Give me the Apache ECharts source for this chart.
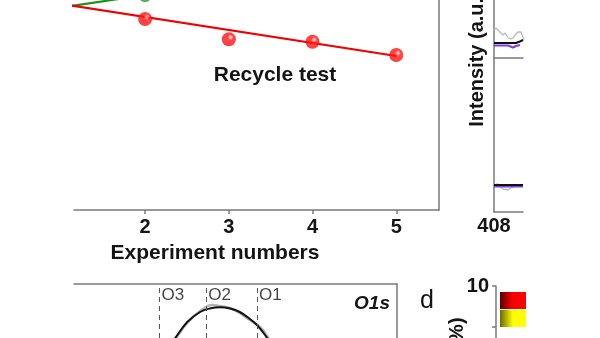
<!DOCTYPE html>
<html>
<head>
<meta charset="utf-8">
<script src="https://cdn.jsdelivr.net/npm/echarts@6/dist/echarts.min.js"></script>
<style>
  html, body { margin: 0; padding: 0; background: #ffffff; }
  #chart { width: 600px; height: 338px; }
</style>
</head>
<body>
<div id="chart"></div>
<script>
// ---- Recycle test (panel with experiment numbers) ----
const experimentNumbers = [2, 3, 4, 5];
const recycleValues = [76.4, 68.3, 67.3, 62.0];
const recycleFitX = [1, 5];
const recycleFitY = [82.4, 61.6];
const referenceX = [1, 2];
const referenceY = [81.0, 86.0];
const experimentTicks = [2, 3, 4, 5];

// ---- N 1s spectra, stacked (upper / lower) ----
const n1sUpperRawE = [408.0, 407.86, 407.59, 407.38, 407.24, 407.03, 406.83, 406.69, 406.48, 406.34, 406.14, 405.93];
const n1sUpperRaw = [28, 30, 26, 23, 25, 20, 19, 20, 24, 26, 26, 18];
const n1sUpperFitE = [408.0, 406.48, 406.21, 406.0];
const n1sUpperFit = [15, 15, 16.5, 18];
const n1sUpperBaseE = [408.0, 407.03, 406.69, 406.48, 406.21];
const n1sUpperBase = [12.5, 12.5, 10.5, 12, 13];
const n1sLowerRawE = [408.0, 407.72, 407.38, 407.03, 406.83, 406.55, 406.21, 406.0];
const n1sLowerRaw = [27, 28, 23, 22, 24, 26, 27, 27];
const n1sLowerFitE = [408.0, 406.0];
const n1sLowerFit = [27, 27];
const n1sLowerBase = [25.5, 25.5];
const n1sTicks = [408];

// ---- O 1s spectrum ----
const o1sFitE = [532.74, 532.36, 532.10, 531.79, 531.46, 531.21, 530.95, 530.69, 530.44, 530.18, 530.0, 529.79, 529.54, 529.15];
const o1sFit = [55, 67, 73, 81, 86, 87.75, 88.35, 87.75, 86, 82.5, 79.5, 74.5, 67, 55];
const o1sRawE = [532.74, 532.36, 532.10, 531.79, 531.46, 531.15, 530.95, 530.69, 530.44, 530.18, 529.92, 529.72, 529.46, 529.15];
const o1sRaw = [56, 66, 72.5, 80.5, 86.5, 89.5, 89, 88, 85.5, 82, 78.5, 73.5, 65, 55];
const o1sPeakNames = ['O3', 'O2', 'O1'];
const o1sPeakE = [532.5, 531.3, 530.0];
const o1sPeakLabelY = 94.5;

// ---- Percentage bar panel (d) ----
const barGroups = ['Group A', 'Group B'];
const barValuesA = [];
const barValuesB = [];
const percentTicks = [9, 10];
const percentLabels = [10];

const FONT = '"Liberation Sans", Arial, Helvetica, sans-serif';
const AXIS = '#7a7a7a';
const TEXT = '#141414';

function zip(xs, ys) { return xs.map((x, i) => [x, ys[i]]); }
function sphere(hi, base, dark) {
  return {
    type: 'radial', x: 0.62, y: 0.36, r: 0.7,
    colorStops: [
      { offset: 0, color: hi },
      { offset: 0.3, color: base },
      { offset: 0.82, color: base },
      { offset: 1, color: dark }
    ]
  };
}
function hGrad(dark, bright) {
  return {
    type: 'linear', x: 0, y: 0, x2: 1, y2: 0,
    colorStops: [
      { offset: 0, color: dark },
      { offset: 0.5, color: bright },
      { offset: 1, color: bright }
    ]
  };
}
const lineOnly = {
  show: true,
  axisLine: { show: true, lineStyle: { color: AXIS, width: 1.5 } },
  axisTick: { show: false },
  axisLabel: { show: false },
  splitLine: { show: false }
};
const hidden = { show: false, splitLine: { show: false } };

const chart = echarts.init(document.getElementById('chart'), null, { renderer: 'canvas' });

const option = {
  animation: false,
  backgroundColor: '#ffffff',
  grid: [
    { left: 74, top: 0, width: 365, height: 210 },     // 0 recycle test
    { left: 494, top: 0, width: 29, height: 58 },      // 1 N1s upper
    { left: 494, top: 58, width: 29, height: 154 },    // 2 N1s lower
    { left: 74, top: 284, width: 323, height: 54 },    // 3 O1s
    { left: 496, top: 286, width: 30, height: 52 }     // 4 percentage bars
  ],
  xAxis: [
    { // 0
      gridIndex: 0, type: 'value', min: 1.15, max: 5.51, position: 'bottom',
      axisLine: { show: true, lineStyle: { color: AXIS, width: 1.5 } },
      axisTick: { show: true, inside: false, length: 4, customValues: experimentTicks, lineStyle: { color: AXIS, width: 1.5 } },
      axisLabel: { show: true, customValues: experimentTicks, margin: 7,
        fontFamily: FONT, fontWeight: 'bold', fontSize: 20, color: TEXT },
      splitLine: { show: false }
    },
    Object.assign({ gridIndex: 1, type: 'value', min: 406, max: 408, inverse: true, position: 'bottom' }, lineOnly), // 1
    { // 2
      gridIndex: 2, type: 'value', min: 406, max: 408, inverse: true, position: 'bottom',
      axisLine: { show: true, lineStyle: { color: AXIS, width: 1.5 } },
      axisTick: { show: false },
      axisLabel: { show: true, customValues: n1sTicks, margin: 4,
        fontFamily: FONT, fontWeight: 'bold', fontSize: 20, color: TEXT },
      splitLine: { show: false }
    },
    Object.assign({ gridIndex: 3, type: 'value', min: 526.4, max: 534.7, inverse: true, position: 'top' }, lineOnly), // 3
    { gridIndex: 4, type: 'category', data: barGroups, show: false } // 4
  ],
  yAxis: [
    Object.assign({ gridIndex: 0, type: 'value', min: 0, max: 84 }, hidden), // 0
    Object.assign({ gridIndex: 0, type: 'value', min: 0, max: 84, position: 'right' }, lineOnly), // 1
    Object.assign({ gridIndex: 1, type: 'value', min: 0, max: 58, position: 'left' }, lineOnly), // 2
    Object.assign({ gridIndex: 2, type: 'value', min: 0, max: 154, position: 'left' }, lineOnly), // 3
    Object.assign({ gridIndex: 3, type: 'value', min: 73, max: 100, position: 'left' }, hidden), // 4
    Object.assign({ gridIndex: 3, type: 'value', min: 73, max: 100, position: 'right' }, lineOnly), // 5
    { // 6
      gridIndex: 4, type: 'value', min: 8.73, max: 10, position: 'left',
      axisLine: { show: true, lineStyle: { color: AXIS, width: 1.5 } },
      axisTick: { show: true, length: 4, customValues: percentTicks, lineStyle: { color: AXIS, width: 1.5 } },
      axisLabel: { show: true, customValues: percentLabels, margin: 7,
        fontFamily: FONT, fontWeight: 'bold', fontSize: 20, color: TEXT },
      splitLine: { show: false }
    }
  ],
  legend: {
    show: true, orient: 'vertical', left: 500, top: 292, padding: 0,
    itemWidth: 26, itemHeight: 17, itemGap: 1, icon: 'rect',
    selectedMode: false, data: barGroups,
    formatter: function () { return ''; },
    textStyle: { fontSize: 10 }
  },
  series: [
    // recycle test
    {
      name: 'reference', type: 'line', xAxisIndex: 0, yAxisIndex: 0, clip: true,
      data: zip(referenceX, referenceY), symbol: 'none',
      lineStyle: { color: '#1c921c', width: 2.2 }, z: 3
    },
    {
      name: 'reference point', type: 'scatter', xAxisIndex: 0, yAxisIndex: 0, clip: false,
      data: zip(referenceX.slice(1), referenceY.slice(1)), symbolSize: 14,
      itemStyle: { color: sphere('#e6ffe6', '#21a121', '#0b640b') }, z: 4
    },
    {
      name: 'fit', type: 'line', xAxisIndex: 0, yAxisIndex: 0, clip: true,
      data: zip(recycleFitX, recycleFitY), symbol: 'none',
      lineStyle: { color: '#f00000', width: 2.2 }, z: 3
    },
    {
      name: 'recycle', type: 'scatter', xAxisIndex: 0, yAxisIndex: 0,
      data: zip(experimentNumbers, recycleValues), symbolSize: 14,
      itemStyle: { color: sphere('#ffe8e8', '#ff1414', '#c80000') }, z: 4
    },
    // N1s upper
    { type: 'line', xAxisIndex: 1, yAxisIndex: 2, data: zip(n1sUpperRawE, n1sUpperRaw), symbol: 'none',
      lineStyle: { color: '#b8b8b8', width: 1.3 }, z: 2 },
    { type: 'line', xAxisIndex: 1, yAxisIndex: 2, data: zip(n1sUpperBaseE, n1sUpperBase), symbol: 'none',
      lineStyle: { color: '#7b3fe4', width: 2 }, z: 3 },
    { type: 'line', xAxisIndex: 1, yAxisIndex: 2, data: zip(n1sUpperFitE, n1sUpperFit), symbol: 'none',
      lineStyle: { color: '#111111', width: 2 }, z: 4 },
    // N1s lower
    { type: 'line', xAxisIndex: 2, yAxisIndex: 3, data: zip(n1sLowerRawE, n1sLowerRaw), symbol: 'none',
      lineStyle: { color: '#b8b8b8', width: 1.3 }, z: 2 },
    { type: 'line', xAxisIndex: 2, yAxisIndex: 3, data: zip(n1sLowerFitE, n1sLowerBase), symbol: 'none',
      lineStyle: { color: '#7b3fe4', width: 2 }, z: 3 },
    { type: 'line', xAxisIndex: 2, yAxisIndex: 3, data: zip(n1sLowerFitE, n1sLowerFit), symbol: 'none',
      lineStyle: { color: '#111111', width: 2 }, z: 4 },
    // O1s
    { type: 'line', xAxisIndex: 3, yAxisIndex: 4, data: zip(o1sRawE, o1sRaw), symbol: 'none', smooth: 0.4,
      lineStyle: { color: '#b4b4b4', width: 2.6 }, z: 2 },
    { type: 'line', xAxisIndex: 3, yAxisIndex: 4, data: zip(o1sFitE, o1sFit), symbol: 'none', smooth: 0.4,
      lineStyle: { color: '#111111', width: 2 }, z: 3,
      markLine: {
        silent: true, symbol: 'none', animation: false,
        lineStyle: { color: '#555555', type: [5, 4], width: 1 },
        label: { show: false },
        data: o1sPeakE.map(e => ({ xAxis: e }))
      }
    },
    { type: 'scatter', xAxisIndex: 3, yAxisIndex: 4, symbolSize: 0, silent: true,
      data: o1sPeakE.map((e, i) => ({ value: [e, o1sPeakLabelY], name: o1sPeakNames[i] })),
      label: { show: true, position: 'right', distance: 2, formatter: '{b}',
        fontFamily: FONT, fontSize: 17, color: TEXT }, z: 5 },
    // percentage bars
    { name: barGroups[0], type: 'bar', xAxisIndex: 4, yAxisIndex: 6, data: barValuesA,
      itemStyle: { color: hGrad('#5a0000', '#ff0000') } },
    { name: barGroups[1], type: 'bar', xAxisIndex: 4, yAxisIndex: 6, data: barValuesB,
      itemStyle: { color: hGrad('#6a6a00', '#ffff00') } }
  ],
  graphic: [
    { type: 'text', x: 275, y: 75, style: { text: 'Recycle test', font: 'bold 21px ' + FONT, fill: TEXT,
      align: 'center', verticalAlign: 'middle', textAlign: 'center', textVerticalAlign: 'middle' } },
    { type: 'text', x: 215, y: 253.5, style: { text: 'Experiment numbers', font: 'bold 21px ' + FONT, fill: TEXT,
      align: 'center', verticalAlign: 'middle', textAlign: 'center', textVerticalAlign: 'middle' } },
    { type: 'text', x: 477, y: 59, rotation: Math.PI / 2, style: { text: 'Intensity (a.u.)', font: 'bold 20px ' + FONT, fill: TEXT,
      align: 'center', verticalAlign: 'middle', textAlign: 'center', textVerticalAlign: 'middle' } },
    { type: 'text', x: 457, y: 333, rotation: Math.PI / 2, style: { text: '(%)', font: 'bold 20px ' + FONT, fill: TEXT,
      align: 'center', verticalAlign: 'middle', textAlign: 'center', textVerticalAlign: 'middle' } },
    { type: 'text', x: 427, y: 301, style: { text: 'd', font: '25px ' + FONT, fill: TEXT,
      align: 'center', verticalAlign: 'middle', textAlign: 'center', textVerticalAlign: 'middle' } },
    { type: 'text', x: 390, y: 304, style: { text: 'O1s', font: 'italic bold 19px ' + FONT, fill: TEXT,
      align: 'right', verticalAlign: 'middle', textAlign: 'right', textVerticalAlign: 'middle' } }
  ]
};

chart.setOption(option);
</script>
</body>
</html>
